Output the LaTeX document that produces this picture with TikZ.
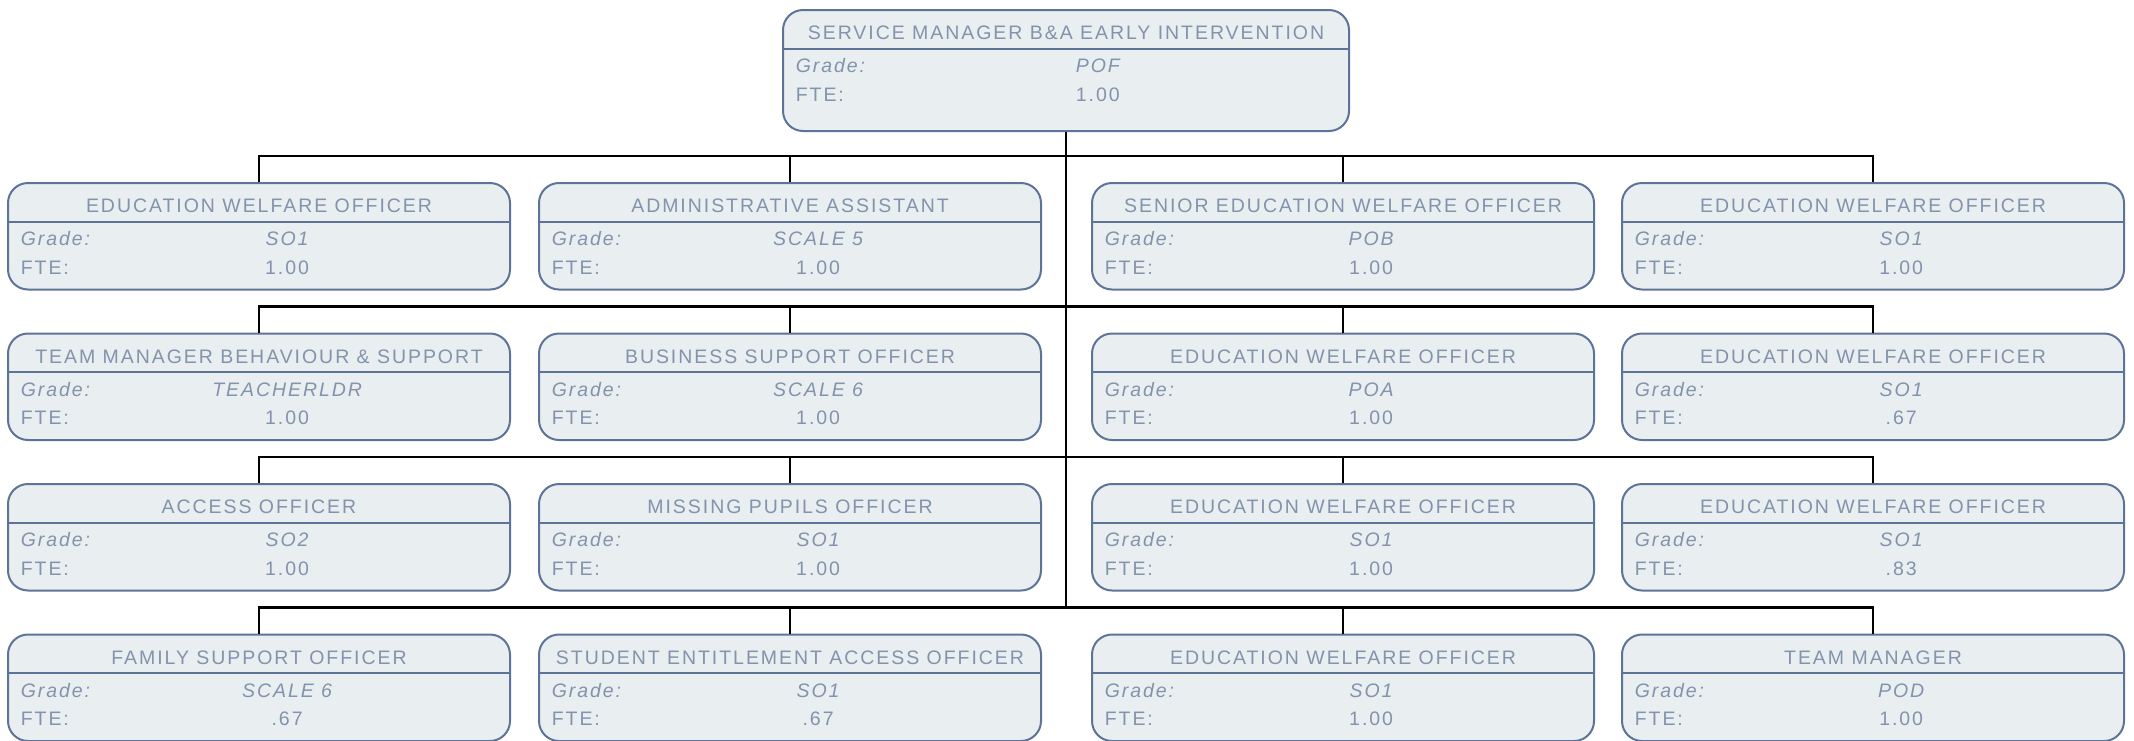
\documentclass[tikz,border=0pt]{standalone}
\usepackage{fontspec}
\usepackage{xcolor}
\usepackage{tikz}
\usetikzlibrary{positioning, calc}
\newfontfamily\schedafont[LetterSpace=10]{Liberation Sans}
\definecolor{bordo}{HTML}{5D7398}
\definecolor{sfondo}{HTML}{E9EEF1}
\definecolor{testo}{HTML}{8393AB}
\tikzset{
	% scheda di un ruolo
	scheda/.style={draw=bordo, line width=1pt, fill=sfondo, rounded corners=10pt, inner sep=0pt},
	% linea sotto il titolo
	divisore/.style={draw=bordo, line width=1pt},
	% testi della scheda
	titolo/.style={inner sep=0pt, text=testo},
	voce/.style={inner sep=0pt, anchor=west, text=testo},
	valore/.style={inner sep=0pt, text=testo},
	% collegamenti dell'organigramma
	filo/.style={draw=black, line width=1.1pt},
}
% #1 nome, #2 x centro, #3 y alto, #4 larghezza, #5 altezza, #6 ruolo, #7 grade, #8 fte
\newcommand{\ruolo}[8]{%
	\node[scheda, minimum width=#4*0.5pt, minimum height=#5*0.5pt, anchor=north] (#1) at (#2,#3) {};
	\draw[divisore] ([yshift=-19.75pt]#1.north west) -- ([yshift=-19.75pt]#1.north east);
	\node[titolo] (#1-tit) at ([yshift=-12pt]#1.north) {#6};
	\node[voce] (#1-gl) at ([xshift=6.7pt, yshift=-28.5pt]#1.north west) {\itshape Grade:};
	\node[voce] (#1-fl) at ([xshift=6.7pt, yshift=-42.75pt]#1.north west) {FTE:};
	\node[valore] (#1-gv) at ([xshift=#4*0.279pt, yshift=-28.5pt]#1.north west) {\itshape #7};
	\node[valore] (#1-fv) at ([xshift=#4*0.279pt, yshift=-42.75pt]#1.north west) {#8};
}

\begin{document}
\begin{tikzpicture}[x=0.5pt, y=-0.5pt, font=\schedafont\fontsize{9.75}{11}\selectfont]
    \useasboundingbox (0,0) rectangle (2134,740);

    % responsabile
    \ruolo{capo}{1066}{9}{566}{121}{SERVICE MANAGER B\&A EARLY INTERVENTION}{POF}{1.00}

    % prima fila
    \ruolo{r1c1}{259}{182}{502}{106.5}{EDUCATION WELFARE OFFICER}{SO1}{1.00}
    \ruolo{r1c2}{790}{182}{502}{106.5}{ADMINISTRATIVE ASSISTANT}{SCALE 5}{1.00}
    \ruolo{r1c3}{1343}{182}{502}{106.5}{SENIOR EDUCATION WELFARE OFFICER}{POB}{1.00}
    \ruolo{r1c4}{1873}{182}{502}{106.5}{EDUCATION WELFARE OFFICER}{SO1}{1.00}

    % seconda fila
    \ruolo{r2c1}{259}{332.5}{502}{106.5}{TEAM MANAGER BEHAVIOUR \& SUPPORT}{TEACHERLDR}{1.00}
    \ruolo{r2c2}{790}{332.5}{502}{106.5}{BUSINESS SUPPORT OFFICER}{SCALE 6}{1.00}
    \ruolo{r2c3}{1343}{332.5}{502}{106.5}{EDUCATION WELFARE OFFICER}{POA}{1.00}
    \ruolo{r2c4}{1873}{332.5}{502}{106.5}{EDUCATION WELFARE OFFICER}{SO1}{.67}

    % terza fila
    \ruolo{r3c1}{259}{483}{502}{106.5}{ACCESS OFFICER}{SO2}{1.00}
    \ruolo{r3c2}{790}{483}{502}{106.5}{MISSING PUPILS OFFICER}{SO1}{1.00}
    \ruolo{r3c3}{1343}{483}{502}{106.5}{EDUCATION WELFARE OFFICER}{SO1}{1.00}
    \ruolo{r3c4}{1873}{483}{502}{106.5}{EDUCATION WELFARE OFFICER}{SO1}{.83}

    % quarta fila
    \ruolo{r4c1}{259}{633.5}{502}{106.5}{FAMILY SUPPORT OFFICER}{SCALE 6}{.67}
    \ruolo{r4c2}{790}{633.5}{502}{106.5}{STUDENT ENTITLEMENT ACCESS OFFICER}{SO1}{.67}
    \ruolo{r4c3}{1343}{633.5}{502}{106.5}{EDUCATION WELFARE OFFICER}{SO1}{1.00}
    \ruolo{r4c4}{1873}{633.5}{502}{106.5}{TEAM MANAGER}{POD}{1.00}

    % dorsale
    \coordinate (bus1) at (1066,156);
    \coordinate (bus2) at (1066,306.5);
    \coordinate (bus3) at (1066,457);
    \coordinate (bus4) at (1066,607.5);
    \draw[filo] (capo.south) -- (bus4);

    % diramazioni
    \draw[filo] (r1c1.north) |- (bus1) -| (r1c4.north);
    \draw[filo] (r1c2.north) -- (r1c2.north |- bus1);
    \draw[filo] (r1c3.north) -- (r1c3.north |- bus1);
    \draw[filo] (r2c1.north) |- (bus2) -| (r2c4.north);
    \draw[filo] (r2c2.north) -- (r2c2.north |- bus2);
    \draw[filo] (r2c3.north) -- (r2c3.north |- bus2);
    \draw[filo] (r3c1.north) |- (bus3) -| (r3c4.north);
    \draw[filo] (r3c2.north) -- (r3c2.north |- bus3);
    \draw[filo] (r3c3.north) -- (r3c3.north |- bus3);
    \draw[filo] (r4c1.north) |- (bus4) -| (r4c4.north);
    \draw[filo] (r4c2.north) -- (r4c2.north |- bus4);
    \draw[filo] (r4c3.north) -- (r4c3.north |- bus4);
\end{tikzpicture}
\end{document}
